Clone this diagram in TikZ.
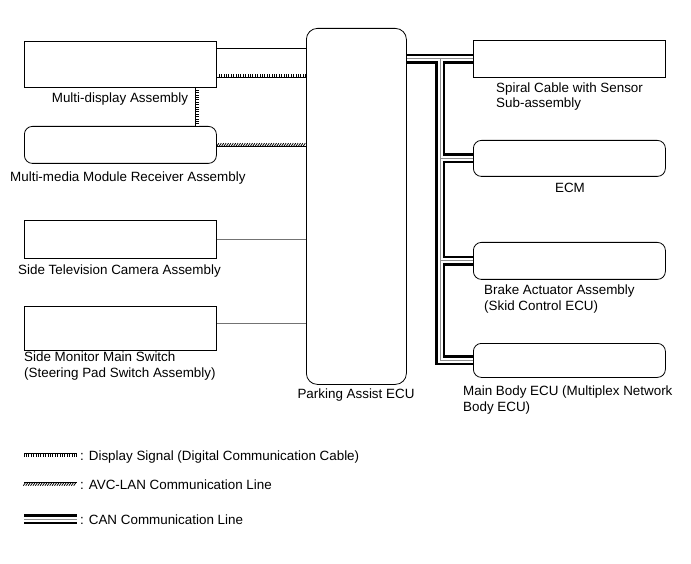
\documentclass[tikz,border=0pt]{standalone}
\usepackage{fontspec}
\setmainfont{Liberation Sans}
\usetikzlibrary{positioning,decorations.markings}

\begin{document}
\begin{tikzpicture}[
  x=1pt, y=-1pt,
  every node/.style={inner sep=0pt, font=\fontsize{13.4}{15.5}\selectfont},
  box/.style={draw, line width=0.8pt, minimum width=192pt, anchor=north west},
  rbox/.style={box, rounded corners=8pt},
  lbl/.style={anchor=base west, align=left},
  clbl/.style={anchor=base},
  wire/.style={line width=0.7pt},
  gwire/.style={line width=0.8pt, black!55},
  dsig/.style={draw, line width=0.6pt, double distance=3pt,
    postaction={decorate, decoration={markings,
      mark=between positions 0 and 1 step 2.4pt with {\draw[line width=0.7pt] (0pt,-1.8pt) -- (0pt,1.8pt);}}}},
  avc/.style={draw, line width=0.6pt, double distance=3pt,
    postaction={decorate, decoration={markings,
      mark=between positions 0.01 and 0.99 step 2.4pt with {\draw[line width=0.8pt] (-1.2pt,-1.7pt) -- (1.2pt,1.7pt);}}}},
  can/.style={draw, line width=10pt,
    postaction={draw=white, line width=5pt},
    postaction={draw=black!45, line width=0.9pt}}
]
\useasboundingbox (0,0) rectangle (691,564);

% units on the left
\node[box, minimum height=46pt] (mda) at (24,41) {};
\node[rbox, minimum height=37pt] (mmr) at (24,126) {};
\node[box, minimum height=38pt] (stv) at (24,220) {};
\node[box, minimum height=44pt] (sms) at (24,306) {};

% parking assist ecu
\node[draw, line width=0.8pt, rounded corners=11pt, anchor=north west,
  minimum width=100pt, minimum height=356pt] (pae) at (306,28) {};

% units on the right
\node[box, minimum height=37pt] (scs) at (473,40) {};
\node[rbox, minimum height=36pt] (ecm) at (473,140) {};
\node[rbox, minimum height=37pt] (bra) at (473,242) {};
\node[rbox, minimum height=34pt] (mbe) at (473,343) {};

% labels (two-line ones sit on their last baseline)
\node[clbl] (mdaL) at (120,103) {Multi-display Assembly};
\node[lbl] (mmrL) at (10,182) {Multi-media Module Receiver Assembly};
\node[lbl] (stvL) at (18,275) {Side Television Camera Assembly};
\node[lbl] (smsL) at (24,377) {Side Monitor Main Switch\\(Steering Pad Switch Assembly)};
\node[clbl] (paeL) at (356,398) {Parking Assist ECU};
\node[lbl] (scsL) at (496,108) {Spiral Cable with Sensor\\Sub-assembly};
\node[clbl] (ecmL) at (570,193) {ECM};
\node[lbl] (braL) at (484,310) {Brake Actuator Assembly\\(Skid Control ECU)};
\node[lbl] (mbeL) at (463,411) {Main Body ECU (Multiplex Network\\Body ECU)};

% connections
\coordinate (r1) at (0,48);
\coordinate (r2) at (0,76);
\coordinate (r3) at (0,323);
\coordinate (dv) at (197,0);
\coordinate (trunk) at (440,0);
\draw[wire] (mda.east |- r1) -- (pae.west |- r1);
\draw[dsig] (mda.east |- r2) -- (pae.west |- r2);
\draw[dsig] (mda.south -| dv) -- (mmr.north -| dv);
\draw[avc] (mmr.east) -- (pae.west |- mmr.east);
\draw[gwire] (stv.east) -- (pae.west |- stv.east);
\draw[gwire] (sms.east |- r3) -- (pae.west |- r3);

\draw[can] (pae.east |- scs.west) -- (scs.west)
  (trunk |- scs.west) -- (trunk |- mbe.west) -- (mbe.west)
  (trunk |- ecm.west) -- (ecm.west)
  (trunk |- bra.west) -- (bra.west);

% legend
\coordinate (k1) at (24,455); \coordinate (k1e) at (77,455);
\coordinate (k2) at (24,484); \coordinate (k2e) at (77,484);
\coordinate (k3) at (24,519); \coordinate (k3e) at (77,519);
\draw[dsig] (k1) -- (k1e);
\draw[avc] (k2) -- (k2e);
\draw[can] (k3) -- (k3e);
\node[lbl] (k1t) at (80,460) {: Display Signal (Digital Communication Cable)};
\node[lbl] (k2t) at (80,489) {: AVC-LAN Communication Line};
\node[lbl] (k3t) at (80,524) {: CAN Communication Line};
\end{tikzpicture}
\end{document}
